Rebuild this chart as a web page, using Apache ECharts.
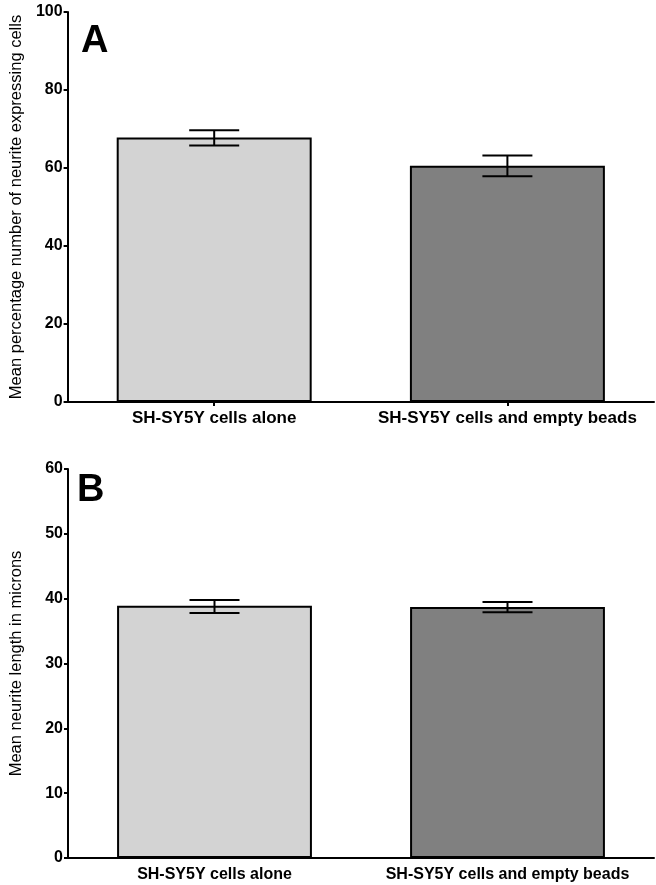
<!DOCTYPE html>
<html>
<head>
<meta charset="utf-8">
<script src="https://cdn.jsdelivr.net/npm/echarts@6/dist/echarts.min.js"></script>
<style>
html,body{margin:0;padding:0;background:#fff;}
#c{width:656px;height:885px;}
</style>
</head>
<body>
<div id="c"></div>
<script>
const categories = ['SH-SY5Y cells alone', 'SH-SY5Y cells and empty beads'];
const barColors = ['#d3d3d3', '#808080'];

const pctMeans = [67.8, 60.6];
const pctLow = [65.8, 57.9];
const pctHigh = [69.7, 63.2];

const lenMeans = [38.9, 38.7];
const lenLow = [37.8, 37.9];
const lenHigh = [39.8, 39.5];

const yTitleA = 'Mean percentage number of neurite expressing cells';
const yTitleB = 'Mean neurite length in microns';

const FONT = 'Liberation Sans, Arial, sans-serif';

function barData(vals) {
  return vals.map((v, i) => ({ value: v, itemStyle: { color: barColors[i] } }));
}
function errData(lo, hi) {
  return lo.map((l, i) => [i, l, hi[i]]);
}
function errRender(params, api) {
  const x = api.value(0);
  const lo = api.coord([x, api.value(1)]);
  const hi = api.coord([x, api.value(2)]);
  const half = 25;
  const st = { stroke: '#000', lineWidth: 2 };
  return {
    type: 'group',
    children: [
      { type: 'line', shape: { x1: lo[0], y1: lo[1], x2: hi[0], y2: hi[1] }, style: st },
      { type: 'line', shape: { x1: lo[0] - half, y1: lo[1], x2: lo[0] + half, y2: lo[1] }, style: st },
      { type: 'line', shape: { x1: hi[0] - half, y1: hi[1], x2: hi[0] + half, y2: hi[1] }, style: st }
    ]
  };
}

const axisLine = { show: true, lineStyle: { color: '#000', width: 2 } };

const chart = echarts.init(document.getElementById('c'));
chart.setOption({
  animation: false,
  backgroundColor: '#fff',
  title: [
    { text: 'A', left: 76, top: 18, textStyle: { fontSize: 38, fontWeight: 'bold', color: '#000', fontFamily: FONT } },
    { text: 'B', left: 72, top: 467, textStyle: { fontSize: 38, fontWeight: 'bold', color: '#000', fontFamily: FONT } }
  ],
  grid: [
    { left: 65, top: 12, width: 589, height: 390 },
    { left: 66, top: 469, width: 588, height: 389 }
  ],
  xAxis: [
    {
      type: 'category', gridIndex: 0, data: categories,
      axisLine: axisLine,
      axisTick: { show: true, alignWithLabel: true, length: 4, lineStyle: { color: '#000', width: 2 } },
      axisLabel: { color: '#000', fontWeight: 'bold', fontSize: 17, fontFamily: FONT, margin: 8, interval: 0 }
    },
    {
      type: 'category', gridIndex: 1, data: categories,
      axisLine: axisLine,
      axisTick: { show: false },
      axisLabel: { color: '#000', fontWeight: 'bold', fontSize: 16, fontFamily: FONT, margin: 9, interval: 0 }
    }
  ],
  yAxis: [
    {
      type: 'value', gridIndex: 0, min: 0, max: 100, interval: 20,
      name: yTitleA, nameLocation: 'middle', nameGap: 42,
      nameTextStyle: { color: '#000', fontSize: 16.5, fontFamily: FONT },
      axisLine: axisLine,
      axisTick: { show: true, length: 4, lineStyle: { color: '#000', width: 2 } },
      axisLabel: { color: '#000', fontWeight: 'bold', fontSize: 16, fontFamily: FONT, margin: 5 },
      splitLine: { show: false }
    },
    {
      type: 'value', gridIndex: 1, min: 0, max: 60, interval: 10,
      name: yTitleB, nameLocation: 'middle', nameGap: 43,
      nameTextStyle: { color: '#000', fontSize: 16.5, fontFamily: FONT },
      axisLine: axisLine,
      axisTick: { show: true, length: 4, lineStyle: { color: '#000', width: 2 } },
      axisLabel: { color: '#000', fontWeight: 'bold', fontSize: 16, fontFamily: FONT, margin: 5 },
      splitLine: { show: false }
    }
  ],
  series: [
    {
      type: 'bar', xAxisIndex: 0, yAxisIndex: 0, data: barData(pctMeans),
      barWidth: '66.5%',
      itemStyle: { borderColor: '#000', borderWidth: 2 }
    },
    {
      type: 'custom', xAxisIndex: 0, yAxisIndex: 0, data: errData(pctLow, pctHigh),
      renderItem: errRender, z: 5
    },
    {
      type: 'bar', xAxisIndex: 1, yAxisIndex: 1, data: barData(lenMeans),
      barWidth: '66.5%',
      itemStyle: { borderColor: '#000', borderWidth: 2 }
    },
    {
      type: 'custom', xAxisIndex: 1, yAxisIndex: 1, data: errData(lenLow, lenHigh),
      renderItem: errRender, z: 5
    }
  ]
});
</script>
</body>
</html>
